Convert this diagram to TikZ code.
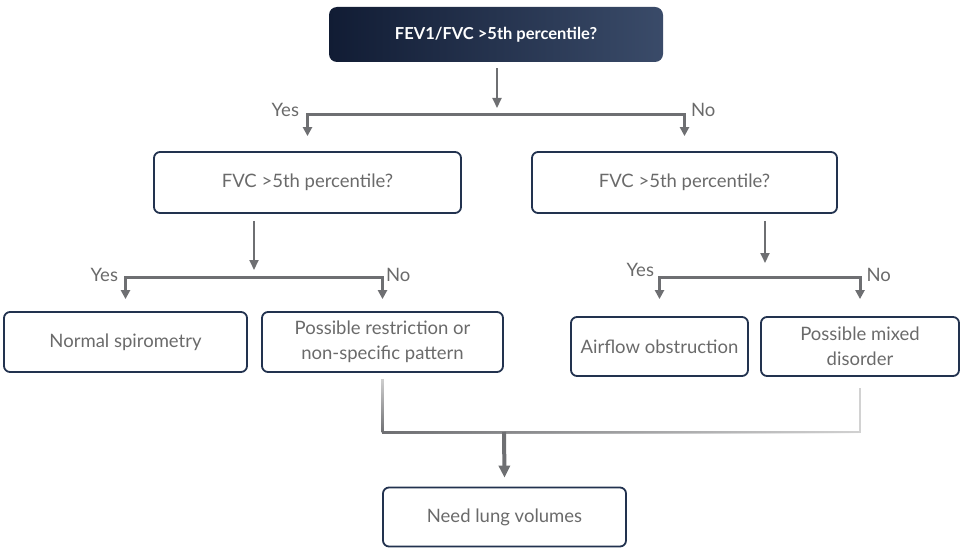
\documentclass[tikz,border=0pt]{standalone}
\usepackage{fontspec}
\setmainfont{Lato}
\usepackage{tikz}
\usetikzlibrary{arrows.meta}
\usetikzlibrary{fadings}
\definecolor{navyA}{HTML}{111C34}
\definecolor{navyB}{HTML}{3A4B69}
\definecolor{boxline}{HTML}{22324F}
\definecolor{txtgray}{HTML}{6A6A6A}
\definecolor{linegray}{HTML}{6E6F72}
\definecolor{palegray}{HTML}{D2D2D2}
\tikzset{box/.style = {draw = boxline, line width = 1.8pt, rounded corners = 6pt, text = txtgray, font = \fontsize{18.5}{25}\selectfont, align = center, inner sep = 0}}
\tikzset{topbox/.style = {rounded corners = 8pt, left color = navyA, right color = navyB, text = white, font = \bfseries\fontsize{16.5}{20}\selectfont, inner sep = 0}}
\tikzset{feed/.style = {draw = linegray, line width = 2pt, -{Triangle[length = 10pt, width = 9pt]}}}
\tikzset{feedbig/.style = {draw = linegray, line width = 4pt, -{Triangle[length = 12pt, width = 11pt]}}}
\tikzset{branch/.style = {draw = linegray, line width = 3pt, -{Triangle[length = 9pt, width = 9pt]}}}
\tikzset{tag/.style = {text = txtgray, font = \fontsize{18.5}{22}\selectfont, inner sep = 1pt}}

\begin{document}
\begin{tikzpicture}[x = 1pt, y = -1pt]
    \useasboundingbox (0, 0) rectangle (963, 548);
    \node [topbox, minimum width = 334pt, minimum height = 55pt] (top) at (496, 34.5) {FEV1/FVC >5th percentile?};
    \node [box, minimum width = 307pt, minimum height = 61pt] (fvcL) at (307.5, 182.5) {FVC >5th percentile?};
    \node [box, minimum width = 305pt, minimum height = 61pt] (fvcR) at (684.5, 182.5) {FVC >5th percentile?};
    \node [box, minimum width = 243pt, minimum height = 60pt] (normal) at (125.5, 342) {Normal spirometry};
    \node [box, minimum width = 241pt, minimum height = 60pt] (restr) at (382.5, 342) {Possible restriction or\\non-specific pattern};
    \node [box, minimum width = 177pt, minimum height = 59pt] (airflow) at (659.5, 346.5) {Airflow obstruction};
    \node [box, minimum width = 198pt, minimum height = 59pt] (mixed) at (860, 346.5) {Possible mixed\\disorder};
    \node [box, minimum width = 243pt, minimum height = 59pt] (lung) at (504.5, 517) {Need lung volumes};
    \coordinate (jA) at (497, 115);
    \coordinate (jB) at (254, 277);
    \coordinate (jC) at (765, 277);
    \coordinate (jD) at (504, 432);
    % first split
    \draw [feed] ([yshift = -6pt]top.south -| jA) -- ([yshift = 7pt]jA);
    \draw [branch] (jA) -| node [tag, pos = 0.5, anchor = south east, xshift = -6pt, yshift = -4pt] {Yes} ([yshift = 15pt]fvcL.north);
    \draw [branch] (jA) -| node [tag, pos = 0.5, anchor = south west, xshift = 4pt, yshift = -4pt] {No} ([yshift = 15pt]fvcR.north);
    % second split, left
    \draw [feed] ([yshift = -7pt]fvcL.south -| jB) -- ([yshift = 7pt]jB);
    \draw [branch] (jB) -| node [tag, pos = 0.5, anchor = east, xshift = -5pt, yshift = 2pt] {Yes} ([yshift = 12pt]normal.north);
    \draw [branch] (jB) -| node [tag, pos = 0.5, anchor = west, xshift = 1pt, yshift = 2pt] {No} ([yshift = 12pt]restr.north);
    % second split, right
    \draw [feed] ([yshift = -7pt]fvcR.south -| jC) -- ([yshift = 14pt]jC);
    \draw [branch] (jC) -| node [tag, pos = 0.5, anchor = east, xshift = -3pt, yshift = 7pt] {Yes} ([yshift = 17pt]airflow.north);
    \draw [branch] (jC) -| node [tag, pos = 0.5, anchor = west, xshift = 4pt, yshift = 2pt] {No} ([yshift = 17pt]mixed.north);
    % merge
    \draw [palegray, line width = 2.5pt] ([yshift = -6pt]restr.south) |- (jD) -| ([yshift = -11pt]mixed.south);
    \draw [linegray, line width = 2.5pt, path fading = north] ([yshift = -6pt]restr.south) -- (restr.south |- jD) ([xshift = -3pt]restr.south |- jD) ([xshift = 3pt]restr.south |- jD);
    \draw [linegray, line width = 3pt, path fading = east] (restr.south |- jD) -- (mixed.south |- jD) ([yshift = 3pt]mixed.south |- jD) ([yshift = -3pt]mixed.south |- jD);
    \draw [feedbig] (jD) -- ([yshift = 9pt]lung.north);
  \end{tikzpicture}
\end{document}
